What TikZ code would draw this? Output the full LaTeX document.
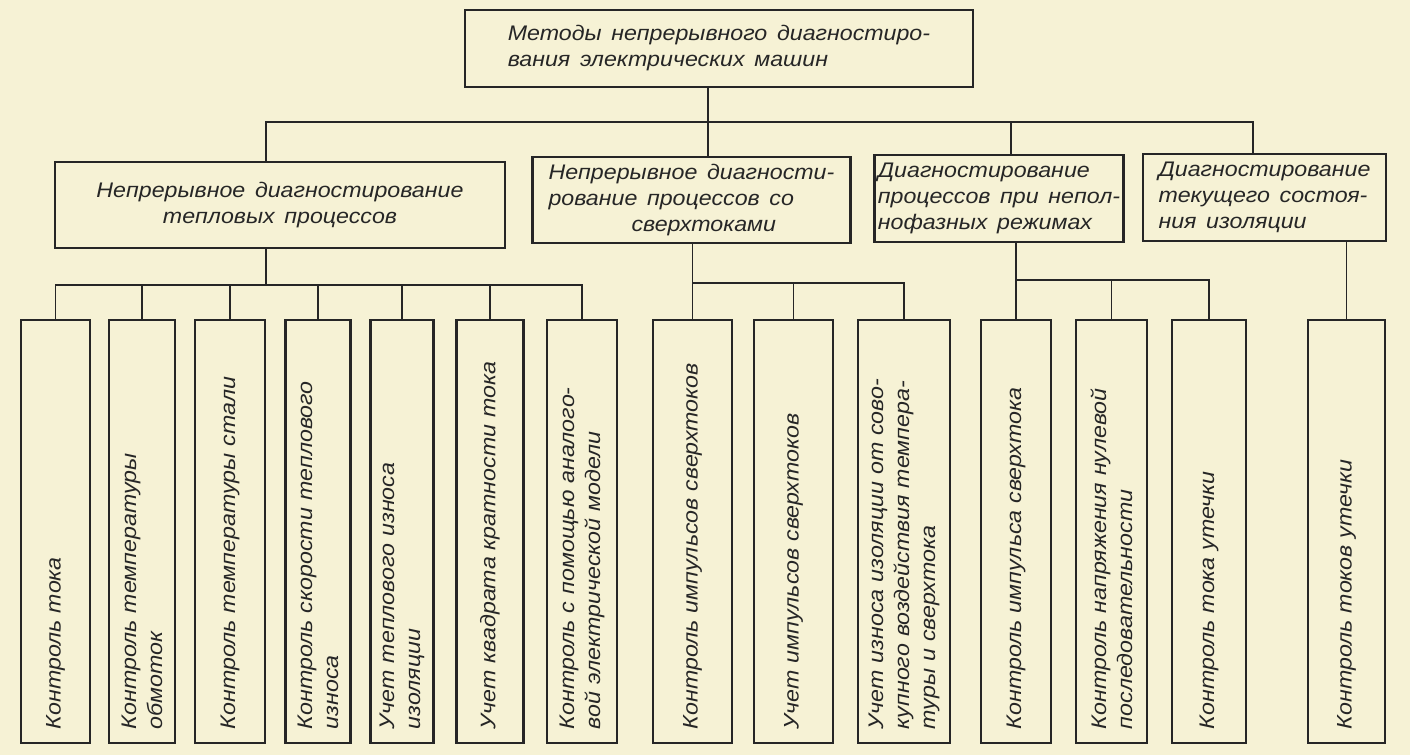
\documentclass[tikz,border=0pt]{standalone}
\usepackage{fontspec}
\usepackage{xcolor}
\usepackage{tikz}
\newfontfamily\gost{Liberation Sans}[FakeStretch=1.1,WordSpace=1.5]
\newcommand{\gostfont}{\gost\itshape\fontsize{15}{18.5}\selectfont}
\definecolor{paper}{HTML}{F6F2D5}
\definecolor{ink}{HTML}{262626}
\newlength{\unitpx}
\setlength{\unitpx}{0.025cm}

\begin{document}
\begin{tikzpicture}[
  x=0.025cm,y=-0.025cm,
  every node/.style={font=\gostfont,text=ink},
  box/.style={draw=ink,line width=2pt,inner sep=0pt,align=left},
  leaf/.style={box,rotate=90,inner xsep=14\unitpx,text width=395\unitpx,
               minimum height=#1\unitpx},
  wire/.style={draw=ink,line width=1.3pt},
]
  \fill[paper] (0,0) rectangle (1410,755);
  \useasboundingbox (0,0) rectangle (1410,755);

  % top level
  \node[box,minimum width=508\unitpx,minimum height=77\unitpx] (top) at (719,48.5)
    {Методы непрерывного диагностиро-\\вания электрических машин};

  % second level
  \node[box,align=center,minimum width=450\unitpx,minimum height=86\unitpx] (b1) at (280,205)
    {Непрерывное диагностирование\\тепловых процессов};
  \node[box,minimum width=318\unitpx,minimum height=86\unitpx] (b2) at (691.5,200)
    {Непрерывное диагности-\\рование процессов со\\\hspace*{83\unitpx}сверхтоками};
  \node[box,minimum width=249\unitpx,minimum height=87\unitpx] (b3) at (999,198.5)
    {Диагностирование\\процессов при непол-\\нофазных режимах};
  \node[box,minimum width=243\unitpx,minimum height=87\unitpx] (b4) at (1264.5,197.5)
    {Диагностирование\\текущего состоя-\\ния изоляции};

  % third level
  \node[leaf=69] (c1)  at (55.5,531.5)  {Контроль тока};
  \node[leaf=66] (c2)  at (142,531.5)   {Контроль температуры\\обмоток};
  \node[leaf=70] (c3)  at (230,531.5)   {Контроль температуры стали};
  \node[leaf=65] (c4)  at (318,531.5)   {Контроль скорости теплового\\износа};
  \node[leaf=63] (c5)  at (402,531.5)   {Учет теплового износа\\изоляции};
  \node[leaf=67] (c6)  at (490,531.5)   {Учет квадрата кратности тока};
  \node[leaf=70] (c7)  at (582,531.5)   {Контроль с помощью аналого-\\вой электрической модели};
  \node[leaf=79] (c8)  at (692.5,531.5) {Контроль импульсов сверхтоков};
  \node[leaf=79] (c9)  at (793.5,531.5) {Учет импульсов сверхтоков};
  \node[leaf=92] (c10) at (904,531.5)   {Учет износа изоляции от сово-\\купного воздействия темпера-\\туры и сверхтока};
  \node[leaf=70] (c11) at (1016,531.5)  {Контроль импульса сверхтока};
  \node[leaf=71] (c12) at (1111.5,531.5){Контроль напряжения нулевой\\последовательности};
  \node[leaf=74] (c13) at (1209,531.5)  {Контроль тока утечки};
  \node[leaf=77] (c14) at (1346.5,531.5){Контроль токов утечки};

  % bus lines
  \coordinate (j0) at (708,122);
  \coordinate (j1) at (266,122);
  \coordinate (j3) at (1011,122);
  \coordinate (j4) at (1253,122);
  \coordinate (g1) at (266,285);
  \coordinate (g2) at (0,283);
  \coordinate (g3) at (0,280);

  \draw[wire] (top.south -| j0) -- (b2.north -| j0);
  \draw[wire] (b1.north -| j1) |- (j4) -- (b4.north -| j4);
  \draw[wire] (j3) -- (b3.north -| j3);

  \draw[wire] (b1.south -| g1) -- (g1);
  \draw[wire] (c1.east) |- (c7.east |- g1) -- (c7.east);
  \foreach \i in {2,...,6}
    \draw[wire] (c\i.east) -- (c\i.east |- g1);

  \draw[wire] (b2.south -| c8.east) -- (c8.east);
  \draw[wire] (c8.east |- g2) -| (c10.east);
  \draw[wire] (c9.east) -- (c9.east |- g2);

  \draw[wire] (b3.south -| c11.east) -- (c11.east);
  \draw[wire] (c11.east |- g3) -| (c13.east);
  \draw[wire] (c12.east) -- (c12.east |- g3);

  \draw[wire] (b4.south -| c14.east) -- (c14.east);
\end{tikzpicture}
\end{document}
